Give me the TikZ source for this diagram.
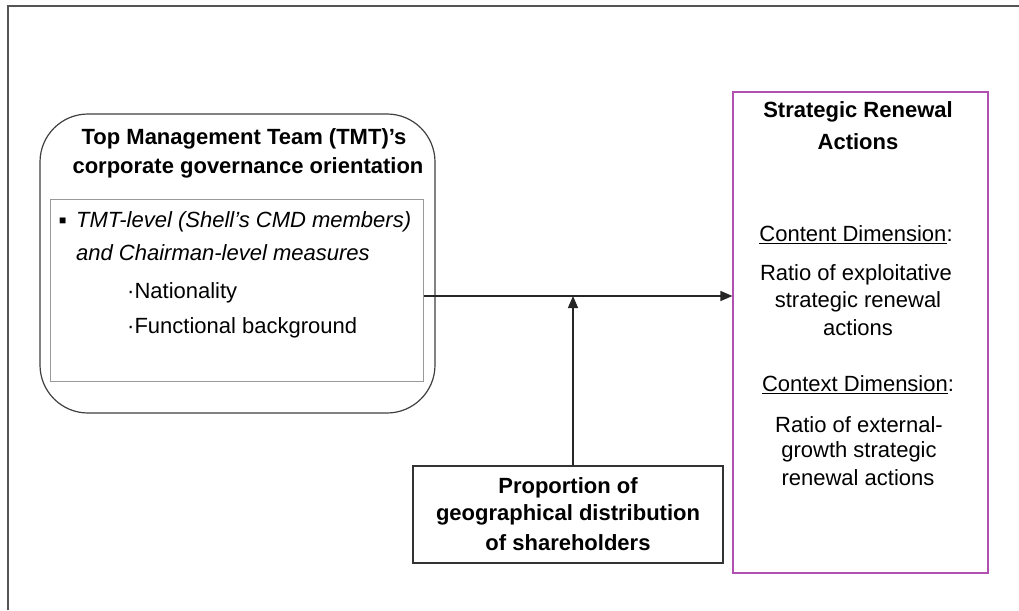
\documentclass[tikz,border=0pt]{standalone}
\usepackage{fontspec}
\setmainfont{Liberation Sans}
\usetikzlibrary{arrows.meta}
\definecolor{framegray}{HTML}{555555}
\definecolor{innergray}{HTML}{999999}
\definecolor{boxpurple}{HTML}{B050B0}
\begin{document}
\begin{tikzpicture}[x=1pt,y=-1pt,
  txt/.style={inner sep=0pt,anchor=center,font=\fontsize{22}{29}\selectfont},
  btxt/.style={inner sep=0pt,anchor=center,align=center,font=\fontsize{22}{29}\selectfont\bfseries},
  arr/.style={draw=black!85,line width=1.3pt,-{Triangle[length=12pt,width=10pt]}},
  thinbox/.style={draw=black!80,line width=1.2pt}]
\useasboundingbox (0,0) rectangle (1019,610);
\fill[white] (0,0) rectangle (1019,610);
% frame
\draw[framegray,line width=2pt] (8,610) -- (8,6) -- (1019,6);
% left rounded box
\draw[black!75,line width=1.2pt,rounded corners=48pt] (40,114) rectangle (435,413);
\node[btxt] (t1) at (244,139) {Top Management Team (TMT)’s};
\node[btxt] (t2) at (248,168) {corporate governance orientation};
\node[draw=innergray,line width=1pt,minimum width=373pt,minimum height=182pt,inner sep=0pt] (inner) at (236.5,290) {};
\node[txt,anchor=west] (bul) at (59,222) {\fontsize{12}{12}\selectfont\raisebox{2pt}{■}};
\node[txt,anchor=west] (i1) at (76,222) {\itshape TMT-level (Shell’s CMD members)};
\node[txt,anchor=west] (i2) at (76,253) {\itshape and Chairman-level measures};
\node[txt,anchor=west] (n1) at (127,293) {·Nationality};
\node[txt,anchor=west] (n2) at (127,328) {·Functional background};
% right purple box
\node[draw=boxpurple,line width=1.2pt,minimum width=255pt,minimum height=481pt,inner sep=0pt] (sra) at (860.5,332.5) {};
\node[btxt] (s1) at (858,112) {Strategic Renewal};
\node[btxt] (s2) at (858,142) {Actions};
\node[txt] (c1) at (856,235) {\underline{Content Dimension}:};
\node[txt] (c2) at (856,275) {Ratio of exploitative};
\node[txt] (c3) at (858,302) {strategic renewal};
\node[txt] (c4) at (858,328) {actions};
\node[txt] (x1) at (858,385) {\underline{Context Dimension}:};
\node[txt] (x2) at (859,425) {Ratio of external-};
\node[txt] (x3) at (859,452) {growth strategic};
\node[txt] (x4) at (858,478) {renewal actions};
% bottom moderator box
\node[thinbox,minimum width=310pt,minimum height=97pt,inner sep=0pt] (mod) at (568,514.5) {};
\node[btxt] (m1) at (568,488) {Proportion of};
\node[btxt] (m2) at (568,515) {geographical distribution};
\node[btxt] (m3) at (568,543) {of shareholders};
% connectors
\coordinate (mid) at (573,296);
\draw[arr] (inner.east |- mid) -- (sra.west |- mid);
\draw[arr] (mod.north -| mid) -- (mid);
\end{tikzpicture}
\end{document}
